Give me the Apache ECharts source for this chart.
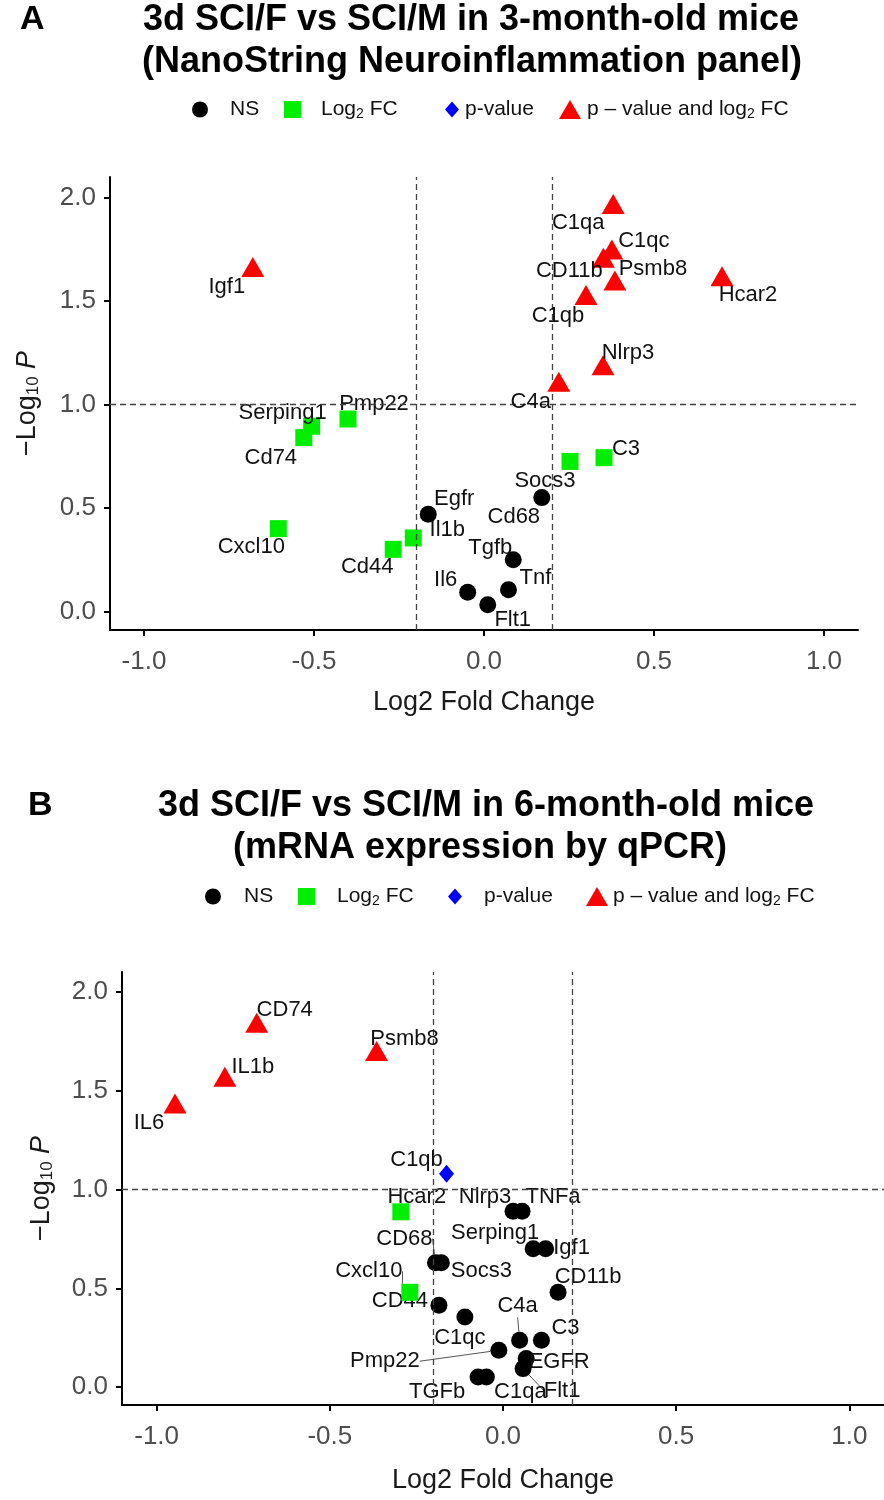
<!DOCTYPE html>
<html><head><meta charset="utf-8">
<script src="https://cdn.jsdelivr.net/npm/echarts@6/dist/echarts.min.js"></script>
<style>html,body{margin:0;padding:0;background:#fff}#c{width:884px;height:1500px}</style>
</head><body><div id="c"></div>
<script>
// ---------- data ----------
const xTickValues = [-1.0, -0.5, 0.0, 0.5, 1.0];
const yTickValues = [0.0, 0.5, 1.0, 1.5, 2.0];
const fcCutoffs = [-0.2, 0.2];
const pCutoff = 1.0;
const legendNames = ['NS', 'Log2 FC', 'p-value', 'p – value and log2 FC'];

// Panel A (NanoString, 3-month-old)
const aNSGenes  = ['Egfr', 'Cd68', 'Tgfb', 'Tnf', 'Il6', 'Flt1'];
const aNSFC     = [-0.164, 0.170, 0.086, 0.072, -0.048, 0.011];
const aNSLogP   = [0.47, 0.55, 0.25, 0.105, 0.092, 0.032];
const aFCGenes  = ['Serping1', 'Pmp22', 'Cd74', 'Cxcl10', 'Cd44', 'Il1b', 'Socs3', 'C3'];
const aFCFC     = [-0.507, -0.40, -0.53, -0.605, -0.267, -0.208, 0.253, 0.353];
const aFCLogP   = [0.895, 0.93, 0.84, 0.40, 0.30, 0.355, 0.725, 0.743];
const aPGenes   = [];
const aPFC      = [];
const aPLogP    = [];
const aBothGenes = ['Igf1', 'C1qa', 'C1qc', 'CD11b', 'Psmb8', 'C1qb', 'Hcar2', 'Nlrp3', 'C4a'];
const aBothFC    = [-0.68, 0.380, 0.376, 0.351, 0.385, 0.300, 0.700, 0.350, 0.220];
const aBothLogP  = [1.665, 1.97, 1.75, 1.71, 1.60, 1.53, 1.62, 1.19, 1.11];

// Panel B (qPCR, 6-month-old)
const bNSGenes = ['Nlrp3', 'TNFa', 'Serping1', 'Igf1', 'CD68', 'Socs3', 'CD44', 'C1qc', 'Pmp22', 'CD11b', 'C4a', 'C3', 'EGFR', 'Flt1', 'TGFb', 'C1qa'];
const bNSFC    = [0.029, 0.055, 0.087, 0.123, -0.195, -0.178, -0.185, -0.110, -0.012, 0.159, 0.048, 0.111, 0.067, 0.058, -0.072, -0.048];
const bNSLogP  = [0.89, 0.89, 0.70, 0.70, 0.63, 0.63, 0.415, 0.355, 0.187, 0.48, 0.237, 0.237, 0.145, 0.094, 0.052, 0.052];
const bFCGenes = ['Hcar2', 'Cxcl10'];
const bFCFC    = [-0.295, -0.269];
const bFCLogP  = [0.887, 0.48];
const bPGenes  = ['C1qb'];
const bPFC     = [-0.163];
const bPLogP   = [1.08];
const bBothGenes = ['CD74', 'IL1b', 'IL6', 'Psmb8'];
const bBothFC    = [-0.711, -0.803, -0.947, -0.365];
const bBothLogP  = [1.843, 1.57, 1.435, 1.70];

// ---------- label layout (pixel offsets of label centre from marker) ----------
const labelOffsetA = {
  Igf1: [-26, 20], C1qa: [-35, 19], C1qc: [32, -8], CD11b: [-34, 13], Psmb8: [38, -11],
  C1qb: [-28, 21], Hcar2: [26, 19], Nlrp3: [25, -12], C4a: [-28, 20],
  Serping1: [-29, -13], Pmp22: [26, -15], Cd74: [-33, 20], Cxcl10: [-27, 18], Cd44: [-26, 18],
  Il1b: [34, -8], Socs3: [-25, 20], C3: [22, -9],
  Egfr: [26, -15], Cd68: [-28, 19], Tgfb: [-23, -12], Tnf: [27, -12], Il6: [-22, -12], Flt1: [25, 15]
};
const labelOffsetB = {
  CD74: [28, -13], IL1b: [28, -10], IL6: [-26, 19], Psmb8: [28, -12], C1qb: [-30, -14],
  Hcar2: [16, -15], Nlrp3: [-28, -14], TNFa: [31, -14], Serping1: [-38, -16], Igf1: [26, -1],
  CD68: [-31, -24], Socs3: [40, 8], Cxcl10: [-41, -21], CD44: [-39, -4], C1qc: [-5, 21],
  Pmp22: [-114, 11], CD11b: [30, -15], C4a: [-2, -34], C3: [24, -12], EGFR: [33, 3],
  Flt1: [39, 22], TGFb: [-41, 15], C1qa: [34, 15]
};
const leaderGenesB = ['CD68', 'Cxcl10', 'Pmp22', 'C4a', 'Flt1'];

// ---------- build ----------
const FONT = '"Liberation Sans", Arial, sans-serif';
const styles = [
  { symbol: 'circle', size: 17, color: '#000000' },
  { symbol: 'rect', size: 17, color: '#00ee00' },
  { symbol: 'diamond', size: [15, 18], color: '#0000ff' },
  { symbol: 'triangle', size: [23, 20], color: '#ff0000' }
];

function pts(genes, fc, lp, leaders) {
  return genes.map((g, i) => {
    const d = { name: g, value: [fc[i], lp[i]] };
    if (leaders && leaders.indexOf(g) >= 0) {
      d.labelLine = { show: true, lineStyle: { color: '#555', width: 1 } };
    }
    return d;
  });
}

const panelSets = [
  [[aNSGenes, aNSFC, aNSLogP], [aFCGenes, aFCFC, aFCLogP], [aPGenes, aPFC, aPLogP], [aBothGenes, aBothFC, aBothLogP]],
  [[bNSGenes, bNSFC, bNSLogP], [bFCGenes, bFCFC, bFCLogP], [bPGenes, bPFC, bPLogP], [bBothGenes, bBothFC, bBothLogP]]
];
const offsets = [labelOffsetA, labelOffsetB];
const leaders = [[], leaderGenesB];

const series = [];
panelSets.forEach((sets, p) => {
  sets.forEach((s, k) => {
    const ser = {
      type: 'scatter', name: legendNames[k], xAxisIndex: p, yAxisIndex: p,
      symbol: styles[k].symbol, symbolSize: styles[k].size,
      itemStyle: { color: styles[k].color, opacity: 1 },
      data: pts(s[0], s[1], s[2], leaders[p]),
      label: { show: true, formatter: '{b}', position: 'inside', color: '#111', fontSize: 22,
               fontFamily: FONT, textBorderWidth: 0 },
      labelLine: { show: false },
      labelLayout: (function (pp) {
        return function (params) {
          const o = offsets[pp][params.text] || [0, 0];
          return { dx: o[0], dy: o[1] };
        };
      })(p),
      emphasis: { disabled: true },
      z: 3 + k
    };
    if (k === 0) {
      ser.markLine = {
        silent: true, symbol: ['none', 'none'], label: { show: false },
        lineStyle: { type: [6, 4], color: '#444', width: 1.3 },
        data: [{ xAxis: fcCutoffs[0] }, { xAxis: fcCutoffs[1] }, { yAxis: pCutoff }]
      };
    }
    series.push(ser);
  });
});

function axisCommon() {
  return {
    axisLine: { onZero: false, lineStyle: { color: '#000', width: 2 } },
    splitLine: { show: false }
  };
}
const xAxes = [0, 1].map(p => Object.assign(axisCommon(), {
  type: 'value', gridIndex: p, min: -1.1, max: 1.1,
  axisTick: { show: true, length: 6, lineStyle: { color: '#000', width: 2 }, customValues: xTickValues },
  axisLabel: { customValues: xTickValues, formatter: v => v.toFixed(1), fontSize: 26, color: '#4d4d4d', fontFamily: FONT, margin: 19 },
  name: 'Log2 Fold Change', nameLocation: 'middle', nameGap: p === 0 ? 59 : 62,
  nameTextStyle: { fontSize: 27, color: '#1a1a1a', fontFamily: FONT }
}));
const yAxes = [0, 1].map(p => Object.assign(axisCommon(), {
  type: 'value', gridIndex: p, min: -0.09, max: 2.1,
  axisTick: { show: true, length: 6, lineStyle: { color: '#000', width: 2 }, customValues: yTickValues },
  axisLabel: { customValues: yTickValues, formatter: v => v.toFixed(1), fontSize: 26, color: '#4d4d4d', fontFamily: FONT, margin: 14 },
  name: '{t|−Log}{s|10}{i| P}', nameLocation: 'middle', nameGap: p === 0 ? 68 : 66,
  nameTextStyle: {
    fontFamily: FONT, color: '#1a1a1a',
    rich: {
      t: { fontSize: 27, fontFamily: FONT, color: '#1a1a1a' },
      s: { fontSize: 17, fontFamily: FONT, color: '#1a1a1a', padding: [12, 0, 0, 0] },
      i: { fontSize: 27, fontFamily: FONT, color: '#1a1a1a', fontStyle: 'italic' }
    }
  }
}));

const legendFmt = {
  'NS': '{t|NS}',
  'Log2 FC': '{t|Log}{s|2}{t| FC}',
  'p-value': '{t|p-value}',
  'p – value and log2 FC': '{t|p – value and log}{s|2}{t| FC}'
};
const legendIcons = ['circle', 'rect', 'diamond', 'triangle'];
const legendIconSize = [[16, 16], [17, 17], [14, 16], [22, 19]];
const legendLayout = [
  { top: 99, items: [[192, 17], [284, 15], [445, 1], [559, 1]] },
  { top: 886, items: [[205, 18], [298, 17], [448, 17], [586, 0]] }
];
const legends = [];
legendLayout.forEach(L => {
  L.items.forEach((it, k) => {
    legends.push({
      data: [{ name: legendNames[k], icon: legendIcons[k] }],
      left: it[0], top: L.top, itemWidth: legendIconSize[k][0], itemHeight: legendIconSize[k][1],
      selectedMode: false, padding: 0,
      formatter: n => legendFmt[n],
      textStyle: {
        rich: {
          t: { fontSize: 21, fontFamily: FONT, color: '#111' },
          s: { fontSize: 14, fontFamily: FONT, color: '#111', padding: [10, 0, 0, 0] }
        },
        padding: [0, 0, 0, it[1]]
      }
    });
  });
});

const titleFont = 'bold 36px ' + FONT;
const graphic = [
  { type: 'text', x: 20, y: 20, style: { text: 'A', font: 'bold 34px ' + FONT, fill: '#000', verticalAlign: 'middle' } },
  { type: 'text', x: 471, y: 20, style: { text: '3d SCI/F vs SCI/M in 3-month-old mice', font: titleFont, fill: '#000', align: 'center', verticalAlign: 'middle' } },
  { type: 'text', x: 472, y: 62, style: { text: '(NanoString Neuroinflammation panel)', font: titleFont, fill: '#000', align: 'center', verticalAlign: 'middle' } },
  { type: 'text', x: 28, y: 806, style: { text: 'B', font: 'bold 34px ' + FONT, fill: '#000', verticalAlign: 'middle' } },
  { type: 'text', x: 486, y: 806, style: { text: '3d SCI/F vs SCI/M in 6-month-old mice', font: titleFont, fill: '#000', align: 'center', verticalAlign: 'middle' } },
  { type: 'text', x: 480, y: 848, style: { text: '(mRNA expression by qPCR)', font: titleFont, fill: '#000', align: 'center', verticalAlign: 'middle' } }
];

const chart = echarts.init(document.getElementById('c'), null, { renderer: 'canvas' });
chart.setOption({
  animation: false,
  backgroundColor: '#fff',
  grid: [
    { left: 110, right: 26, top: 177, height: 453 },
    { left: 122, right: 0, top: 972, height: 433 }
  ],
  xAxis: xAxes,
  yAxis: yAxes,
  legend: legends,
  graphic: graphic,
  series: series
});
</script></body></html>
